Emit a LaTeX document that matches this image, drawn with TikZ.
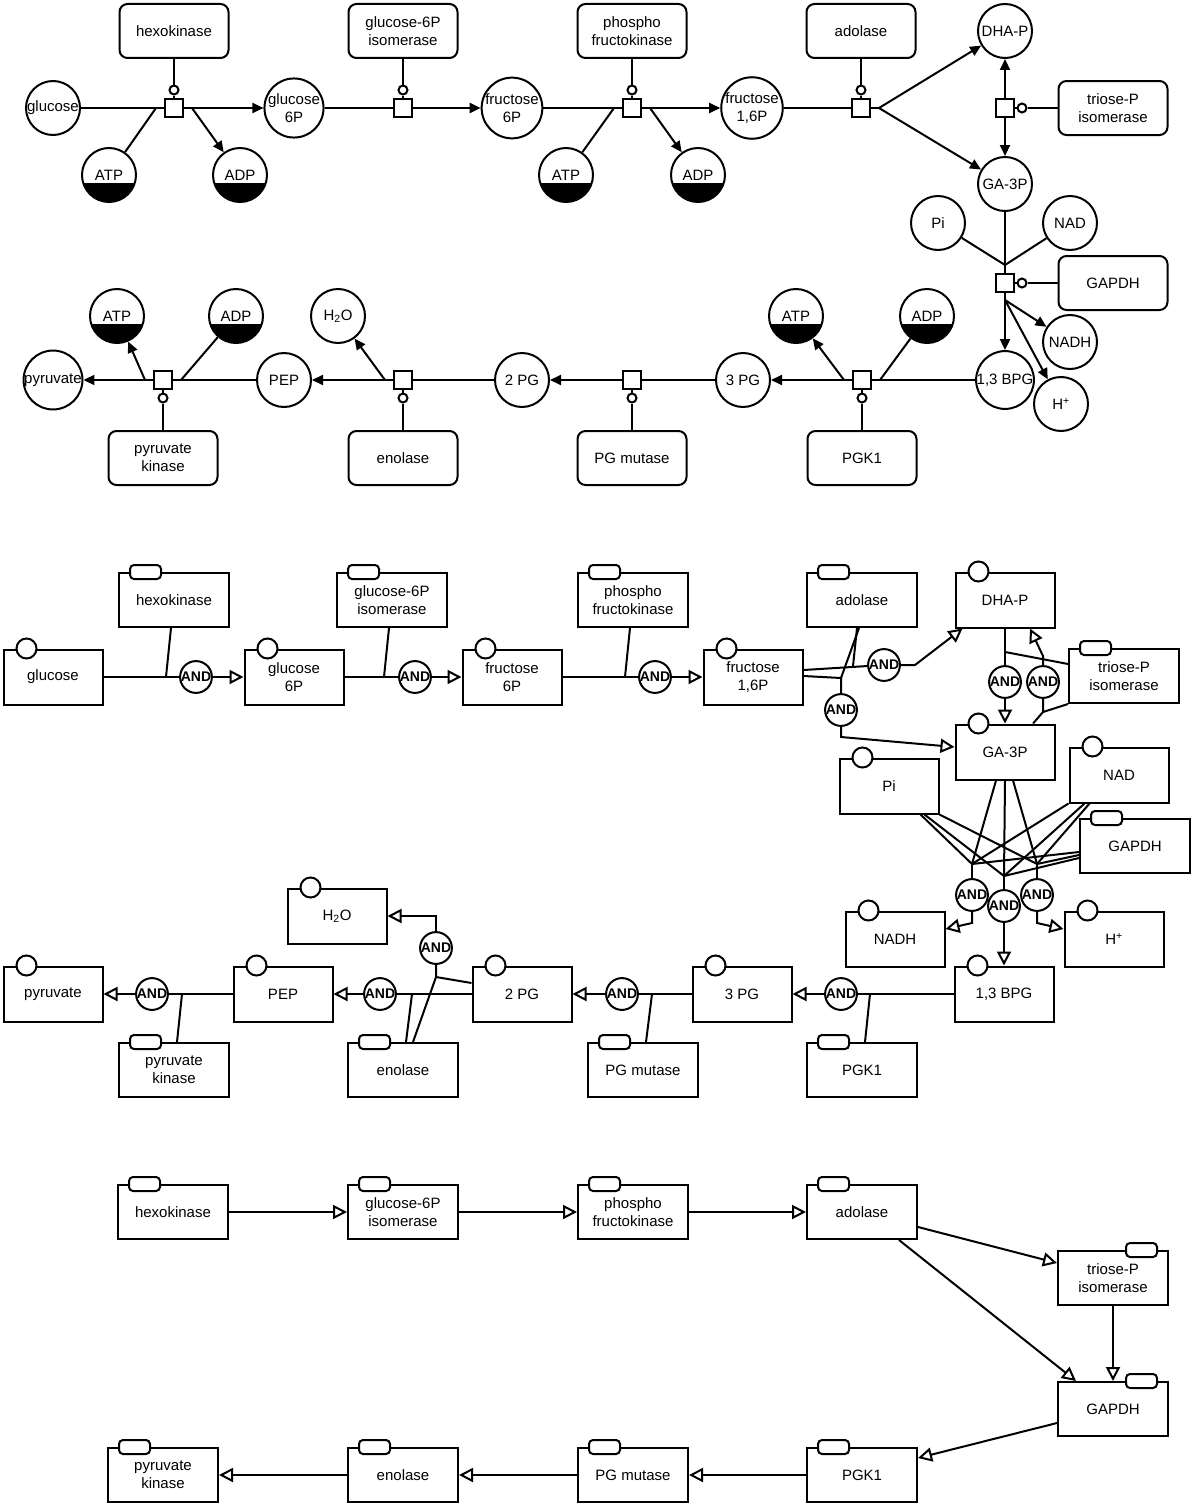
\documentclass[tikz,border=0pt]{standalone}
\usepackage{fontspec}
\setmainfont{Liberation Sans}
\usetikzlibrary{arrows.meta}
\newcommand\entmark[1]{\draw[fill=white] ([xshift=24pt]#1.north west) circle[radius=10pt];}
\newcommand\enzmark[1]{\draw[fill=white,rounded corners=4pt] ([xshift=12pt,yshift=-7pt]#1.north west) rectangle ([xshift=43pt,yshift=7pt]#1.north west);}
\newcommand\enzmarkr[1]{\draw[fill=white,rounded corners=4pt] ([xshift=-43pt,yshift=-7pt]#1.north east) rectangle ([xshift=-12pt,yshift=7pt]#1.north east);}
\begin{document}
\begin{tikzpicture}[x=1pt,y=-1pt,line width=2pt,
  every node/.style={font=\fontsize{15}{18}\selectfont,align=center,inner sep=0pt},
  mol/.style={circle,draw,fill=white,minimum size=54pt},
  cof/.style={mol,path picture={\fill[black] (path picture bounding box.south west) rectangle ([yshift=-8pt]path picture bounding box.east);}},
  proc/.style={rectangle,draw,fill=white,minimum size=18pt},
  catc/.style={circle,draw,fill=white,minimum size=9pt},
  rbox/.style={rectangle,rounded corners=8pt,draw,fill=white,minimum width=109pt,minimum height=54pt},
  ent/.style={rectangle,draw,fill=white,minimum width=99pt,minimum height=55pt},
  enz/.style={rectangle,draw,fill=white,minimum width=110pt,minimum height=54pt},
  andg/.style={circle,draw,fill=white,minimum size=31pt,font=\fontsize{14}{14}\selectfont\bfseries},
  tipF/.style={-{Triangle[length=11pt,width=10pt]}},
  tipO/.style={-{Triangle[open,length=14pt,width=14pt,fill=white]}}]
\path[use as bounding box,fill=white] (0,0) rectangle (1200,1512);

%================ TOP SECTION =================
\node[mol] (aglc) at (53,108) {glucose};
\node[mol] (ag6p) at (294,108) {glucose\\6P};
\node[mol] (af6p) at (512,108) {fructose\\6P};
\node[mol] (af16p) at (752,108) {fructose\\1,6P};
\node[mol] (adhap) at (1005,31) {DHA-P};
\node[mol] (aga3p) at (1005,184) {GA-3P};
\node[cof] (aatp1) at (109,175) {ATP};
\node[cof] (aadp1) at (240,175) {ADP};
\node[cof] (aatp2) at (566,175) {ATP};
\node[cof] (aadp2) at (698,175) {ADP};
\node[mol] (api) at (938,223) {Pi};
\node[mol] (anad) at (1070,223) {NAD};
\node[mol] (anadh) at (1070,342) {NADH};
\node[mol] (ah) at (1061,404) {H\textsuperscript{+}};
\node[mol] (abpg) at (1005,380) {1,3 BPG};
\node[mol] (a3pg) at (743,380) {3 PG};
\node[mol] (a2pg) at (522,380) {2 PG};
\node[mol] (apep) at (284,380) {PEP};
\node[mol] (apyr) at (53,380) {pyruvate};
\node[cof] (aatp3) at (796,316) {ATP};
\node[cof] (aadp3) at (927,316) {ADP};
\node[mol] (ah2o) at (338,316) {H\textsubscript{2}O};
\node[cof] (aatp4) at (117,316) {ATP};
\node[cof] (aadp4) at (236,316) {ADP};

\node[rbox] (ahex) at (174,31) {hexokinase};
\node[rbox] (aiso) at (403,31) {glucose-6P\\isomerase};
\node[rbox] (apfk) at (632,31) {phospho\\fructokinase};
\node[rbox] (aado) at (861,31) {adolase};
\node[rbox] (atpi) at (1113,108) {triose-P\\isomerase};
\node[rbox] (agapdh) at (1113,283) {GAPDH};
\node[rbox] (apk) at (163,458) {pyruvate\\kinase};
\node[rbox] (aeno) at (403,458) {enolase};
\node[rbox] (apgm) at (632,458) {PG mutase};
\node[rbox] (apgk) at (862,458) {PGK1};

\node[proc] (asq1) at (174,108) {};
\node[proc] (asq2) at (403,108) {};
\node[proc] (asq3) at (632,108) {};
\node[proc] (asq4) at (861,108) {};
\node[proc] (asq5) at (1005,108) {};
\node[proc] (asq6) at (1005,283) {};
\node[proc] (asq7) at (862,380) {};
\node[proc] (asq8) at (632,380) {};
\node[proc] (asq9) at (403,380) {};
\node[proc] (asq10) at (163,380) {};

\node[catc] (ac1) at (174,90) {};
\node[catc] (ac2) at (403,90) {};
\node[catc] (ac3) at (632,90) {};
\node[catc] (ac4) at (861,90) {};
\node[catc] (ac5) at (1022,108) {};
\node[catc] (ac6) at (1022,283) {};
\node[catc] (ac7) at (862,398) {};
\node[catc] (ac8) at (632,398) {};
\node[catc] (ac9) at (403,398) {};
\node[catc] (ac10) at (163,398) {};

\coordinate (asq1in) at (156,108);
\coordinate (asq1out) at (192,108);
\coordinate (asq3in) at (614,108);
\coordinate (asq3out) at (650,108);
\coordinate (asq4out) at (879,108);
\coordinate (aj6) at (1005,265);
\coordinate (asq6out) at (1005,300);
\coordinate (asq7out) at (844,380);
\coordinate (asq7in) at (880,380);
\coordinate (asq9out) at (385,380);
\coordinate (asq10out) at (145,380);
\coordinate (asq10in) at (181,380);

% catalysis links
\draw (ahex) -- (ac1); \draw (ac1) -- (asq1);
\draw (aiso) -- (ac2); \draw (ac2) -- (asq2);
\draw (apfk) -- (ac3); \draw (ac3) -- (asq3);
\draw (aado) -- (ac4); \draw (ac4) -- (asq4);
\draw (atpi) -- (ac5); \draw (ac5) -- (asq5);
\draw (agapdh) -- (ac6); \draw (ac6) -- (asq6);
\draw (apgk) -- (ac7); \draw (ac7) -- (asq7);
\draw (apgm) -- (ac8); \draw (ac8) -- (asq8);
\draw (aeno) -- (ac9); \draw (ac9) -- (asq9);
\draw (apk) -- (ac10); \draw (ac10) -- (asq10);

% hexokinase
\draw (aglc) -- (asq1in) -- (asq1);
\draw (aatp1) -- (asq1in);
\draw[tipF] (asq1) -- (asq1out) -- (ag6p);
\draw[tipF] (asq1out) -- (aadp1);
% isomerase
\draw (ag6p) -- (asq2);
\draw[tipF] (asq2) -- (af6p);
% pfk
\draw (af6p) -- (asq3in) -- (asq3);
\draw (aatp2) -- (asq3in);
\draw[tipF] (asq3) -- (asq3out) -- (af16p);
\draw[tipF] (asq3out) -- (aadp2);
% adolase
\draw (af16p) -- (asq4);
\draw (asq4) -- (asq4out);
\draw[tipF] (asq4out) -- (adhap);
\draw[tipF] (asq4out) -- (aga3p);
% triose-P isomerase
\draw[tipF] (asq5) -- (adhap);
\draw[tipF] (asq5) -- (aga3p);
% GAPDH
\draw (aga3p) -- (aj6) -- (asq6);
\draw (api) -- (aj6);
\draw (anad) -- (aj6);
\draw[tipF] (asq6) -- (abpg);
\draw (asq6) -- (asq6out);
\draw[tipF] (asq6out) -- (anadh);
\draw[tipF] (asq6out) -- (ah);
% PGK1
\draw (abpg) -- (asq7in) -- (asq7);
\draw (aadp3) -- (asq7in);
\draw[tipF] (asq7) -- (asq7out) -- (a3pg);
\draw[tipF] (asq7out) -- (aatp3);
% PG mutase
\draw (a3pg) -- (asq8);
\draw[tipF] (asq8) -- (a2pg);
% enolase
\draw (a2pg) -- (asq9);
\draw[tipF] (asq9) -- (asq9out) -- (apep);
\draw[tipF] (asq9out) -- (ah2o);
% pyruvate kinase
\draw (apep) -- (asq10in) -- (asq10);
\draw (aadp4) -- (asq10in);
\draw[tipF] (asq10) -- (asq10out) -- (apyr);
\draw[tipF] (asq10out) -- (aatp4);

%================ MIDDLE SECTION =================
\node[ent] (bglc) at (53,677) {glucose};
\node[enz] (bhex) at (174,600) {hexokinase};
\node[ent] (bg6p) at (294,677) {glucose\\6P};
\node[enz] (biso) at (392,600) {glucose-6P\\isomerase};
\node[ent] (bf6p) at (512,677) {fructose\\6P};
\node[enz] (bpfk) at (633,600) {phospho\\fructokinase};
\node[ent] (bf16p) at (753,677) {fructose\\1,6P};
\node[enz] (bado) at (862,600) {adolase};
\node[ent] (bdhap) at (1005,600) {DHA-P};
\node[enz] (btpi) at (1124,676) {triose-P\\isomerase};
\node[ent] (bga3p) at (1005,752) {GA-3P};
\node[ent] (bpi) at (889,786) {Pi};
\node[ent] (bnad) at (1119,775) {NAD};
\node[enz] (bgapdh) at (1135,846) {GAPDH};
\node[ent] (bnadh) at (895,939) {NADH};
\node[ent] (bh) at (1114,939) {H\textsuperscript{+}};
\node[ent] (bbpg) at (1004,994) {1,3 BPG};
\node[ent] (b3pg) at (742,994) {3 PG};
\node[enz] (bpgk) at (862,1070) {PGK1};
\node[ent] (b2pg) at (522,994) {2 PG};
\node[enz] (bpgm) at (643,1070) {PG mutase};
\node[ent] (bh2o) at (337,916) {H\textsubscript{2}O};
\node[ent] (bpep) at (283,994) {PEP};
\node[enz] (beno) at (403,1070) {enolase};
\node[ent] (bpyr) at (53,994) {pyruvate};
\node[enz] (bpk) at (174,1070) {pyruvate\\kinase};

\node[andg] (band1) at (196,677) {AND};
\node[andg] (band2) at (415,677) {AND};
\node[andg] (band3) at (655,677) {AND};
\node[andg] (band4a) at (884,665) {AND};
\node[andg] (band4b) at (841,710) {AND};
\node[andg] (band5a) at (1005,682) {AND};
\node[andg] (band5b) at (1043,682) {AND};
\node[andg] (band6a) at (972,895) {AND};
\node[andg] (band6b) at (1004,906) {AND};
\node[andg] (band6c) at (1037,895) {AND};
\node[andg] (band7) at (841,994) {AND};
\node[andg] (band8) at (622,994) {AND};
\node[andg] (band9) at (380,994) {AND};
\node[andg] (band9b) at (436,948) {AND};
\node[andg] (band10) at (152,994) {AND};

\coordinate (bj1) at (166,677);
\coordinate (bj2) at (384,677);
\coordinate (bj3) at (625,677);
\coordinate (bj4a) at (853,666);
\coordinate (bj4b) at (841,678);
\coordinate (bj4c) at (915,665);
\coordinate (bj4d) at (841,737);
\coordinate (bj5a) at (1005,652);
\coordinate (bj5b) at (1043,712);
\coordinate (bj5c) at (1043,656);
\coordinate (bj6a) at (972,864);
\coordinate (bj6b) at (1004,876);
\coordinate (bj6c) at (1037,864);
\coordinate (bj6d) at (972,923);
\coordinate (bj6e) at (1037,923);
\coordinate (bj7) at (870,994);
\coordinate (bj8) at (652,994);
\coordinate (bj9a) at (412,994);
\coordinate (bj9b) at (436,977);
\coordinate (bj9c) at (436,916);
\coordinate (bj10) at (182,994);

% hexokinase
\draw (bglc) -- (band1);
\draw ([xshift=-3pt]bhex.south) -- (bj1);
\draw[tipO] (band1) -- (bg6p);
% isomerase
\draw (bg6p) -- (band2);
\draw ([xshift=-3pt]biso.south) -- (bj2);
\draw[tipO] (band2) -- (bf6p);
% pfk
\draw (bf6p) -- (band3);
\draw ([xshift=-3pt]bpfk.south) -- (bj3);
\draw[tipO] (band3) -- (bf16p);
% adolase
\draw ([yshift=7pt]bf16p.east) -- (band4a);
\draw ([yshift=1pt]bf16p.east) -- (bj4b) -- (band4b);
\draw ([xshift=-5pt]bado.south) -- (bj4a);
\draw ([xshift=-3pt]bado.south) -- (bj4b);
\draw[tipO] (band4a) -- (bj4c) -- ([xshift=8pt]bdhap.south west);
\draw[tipO] (band4b) -- (bj4d) -- ([yshift=5pt]bga3p.west);
% triose-P isomerase
\draw (bdhap) -- (band5a);
\draw ([yshift=12pt]btpi.west) -- (bj5a);
\draw[tipO] (band5a) -- (bga3p);
\draw ([xshift=28pt]bga3p.north) -- (bj5b) -- (band5b);
\draw (btpi.south west) -- (bj5b);
\draw[tipO] (band5b) -- (bj5c) -- ([xshift=25pt]bdhap.south);
% GAPDH
\draw ([xshift=-9pt]bga3p.south) -- (bj6a);
\draw (bga3p.south) -- (bj6b);
\draw ([xshift=8pt]bga3p.south) -- (bj6c);
\draw ([xshift=-19pt]bpi.south east) -- (bj6a);
\draw ([xshift=-15pt]bpi.south east) -- (bj6b);
\draw (bpi.south east) -- (bj6c);
\draw (bnad.south west) -- (bj6a);
\draw ([xshift=16pt]bnad.south west) -- (bj6b);
\draw ([xshift=21pt]bnad.south west) -- (bj6c);
\draw ([yshift=-6pt]bgapdh.west) -- (bj6a);
\draw ([yshift=-12pt]bgapdh.west) -- (bj6b);
\draw ([yshift=-9pt]bgapdh.west) -- (bj6c);
\draw (bj6a) -- (band6a);
\draw (bj6b) -- (band6b);
\draw (bj6c) -- (band6c);
\draw[tipO] (band6a) -- (bj6d) -- ([yshift=10pt]bnadh.east);
\draw[tipO] (band6b) -- (bbpg);
\draw[tipO] (band6c) -- (bj6e) -- ([yshift=10pt]bh.west);
% PGK1
\draw (bbpg) -- (band7);
\draw ([xshift=3pt]bpgk.north) -- (bj7);
\draw[tipO] (band7) -- (b3pg);
% PG mutase
\draw (b3pg) -- (band8);
\draw ([xshift=3pt]bpgm.north) -- (bj8);
\draw[tipO] (band8) -- (b2pg);
% enolase
\draw (b2pg) -- (band9);
\draw ([yshift=11pt]b2pg.west) -- (bj9b) -- (band9b);
\draw ([xshift=3pt]beno.north) -- (bj9a);
\draw ([xshift=10pt]beno.north) -- (bj9b);
\draw[tipO] (band9b) -- (bj9c) -- (bh2o);
\draw[tipO] (band9) -- (bpep);
% pyruvate kinase
\draw (bpep) -- (band10);
\draw ([xshift=3pt]bpk.north) -- (bj10);
\draw[tipO] (band10) -- (bpyr);

\entmark{bglc}\entmark{bg6p}\entmark{bf6p}\entmark{bf16p}\entmark{bdhap}
\entmark{bga3p}\entmark{bpi}\entmark{bnad}\entmark{bnadh}\entmark{bh}
\entmark{bbpg}\entmark{b3pg}\entmark{b2pg}\entmark{bh2o}\entmark{bpep}\entmark{bpyr}
\enzmark{bhex}\enzmark{biso}\enzmark{bpfk}\enzmark{bado}\enzmark{btpi}
\enzmark{bgapdh}\enzmark{bpgk}\enzmark{bpgm}\enzmark{beno}\enzmark{bpk}

%================ BOTTOM SECTION =================
\node[enz] (chex) at (173,1212) {hexokinase};
\node[enz] (ciso) at (403,1212) {glucose-6P\\isomerase};
\node[enz] (cpfk) at (633,1212) {phospho\\fructokinase};
\node[enz] (cado) at (862,1212) {adolase};
\node[enz] (ctpi) at (1113,1278) {triose-P\\isomerase};
\node[enz] (cgapdh) at (1113,1409) {GAPDH};
\node[enz] (cpgk) at (862,1475) {PGK1};
\node[enz] (cpgm) at (633,1475) {PG mutase};
\node[enz] (ceno) at (403,1475) {enolase};
\node[enz] (cpk) at (163,1475) {pyruvate\\kinase};

\draw[tipO] (chex) -- (ciso);
\draw[tipO] (ciso) -- (cpfk);
\draw[tipO] (cpfk) -- (cado);
\draw[tipO] ([yshift=-15pt]cado.east) -- ([yshift=15pt]ctpi.west);
\draw[tipO] ([xshift=-19pt]cado.south east) -- ([xshift=19pt]cgapdh.north west);
\draw[tipO] (ctpi) -- (cgapdh);
\draw[tipO] ([yshift=-14pt]cgapdh.west) -- ([yshift=17pt]cpgk.east);
\draw[tipO] (cpgk) -- (cpgm);
\draw[tipO] (cpgm) -- (ceno);
\draw[tipO] (ceno) -- (cpk);

\enzmark{chex}\enzmark{ciso}\enzmark{cpfk}\enzmark{cado}
\enzmarkr{ctpi}\enzmarkr{cgapdh}
\enzmark{cpgk}\enzmark{cpgm}\enzmark{ceno}\enzmark{cpk}
\end{tikzpicture}
\end{document}
